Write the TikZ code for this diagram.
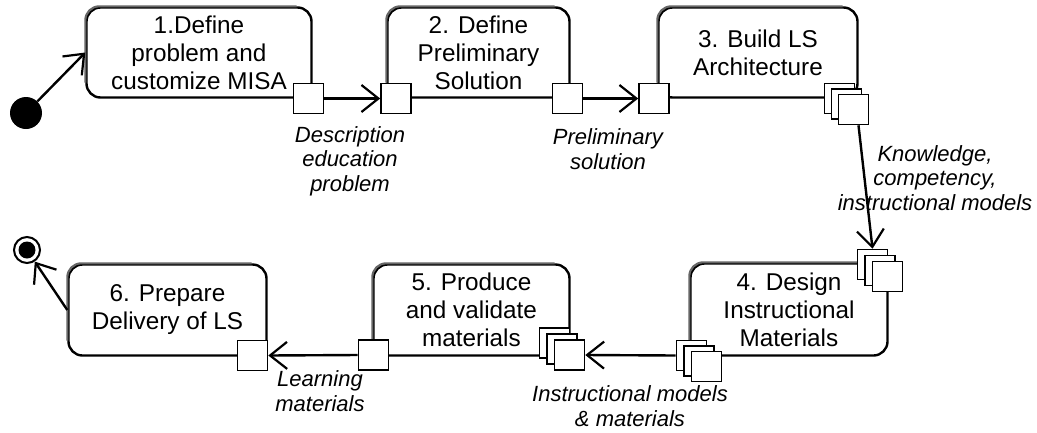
\documentclass[tikz,border=0pt]{standalone}
\usepackage{fontspec}
\setmainfont{Liberation Sans}
\usetikzlibrary{arrows.meta}
\begin{document}
\begin{tikzpicture}[x=1pt,y=-1pt,
  box/.style={draw=black, line width=2.4pt, fill=white, rounded corners=14pt,
    inner sep=0pt, align=center, font=\fontsize{24.3}{28}\selectfont},
  gedge/.style={draw=black!60, line width=2.1pt, rounded corners=14pt},
  pin/.style={draw=black, line width=1.6pt, fill=white, minimum size=30pt, inner sep=0pt},
  flow/.style={line width=2.4pt, -{Straight Barb[length=17pt,width=27pt,line width=2.2pt]}},
  lbl/.style={font=\fontsize{22}{24.5}\selectfont\itshape, align=center, inner sep=0pt}]
\useasboundingbox (0,0) rectangle (1037,432);

% activity boxes
\node[box, minimum width=225pt, minimum height=90pt] (b1) at (199,52.5) {1.Define\\problem and\\customize MISA};
\node[box, minimum width=182pt, minimum height=90pt] (b2) at (478.5,52.5) {2. Define\\Preliminary\\Solution};
\node[box, minimum width=199pt, minimum height=90pt] (b3) at (758,52.5) {3. Build LS\\Architecture};
\node[box, minimum width=197pt, minimum height=92pt] (b4) at (789,309.5) {4. Design\\Instructional\\Materials};
\node[box, minimum width=196pt, minimum height=91pt] (b5) at (471.5,310) {5. Produce\\and validate\\materials};
\node[box, minimum width=198pt, minimum height=91pt] (b6) at (167.5,310) {6. Prepare\\Delivery of LS};
\foreach \b in {b1,b2,b3,b4,b5,b6}
  \draw[gedge] ([yshift=16pt]\b.south west) -- (\b.north west) -- ([xshift=-16pt]\b.north east);

% single pins
\node[pin] (p1o) at (308.5,98.5) {};
\node[pin] (p2i) at (396,98.5) {};
\node[pin] (p2o) at (567.5,98.5) {};
\node[pin] (p3i) at (654,98.5) {};
\node[pin] (p5o) at (373.5,355) {};
\node[pin] (p6i) at (252.5,355.5) {};

% stacked pins
\node[pin] (p3a) at (839.5,98.5) {};
\node[pin] (p3b) at (846.5,104) {};
\node[pin] (p3c) at (853.5,109.5) {};
\node[pin] (p4a) at (872.5,264.5) {};
\node[pin] (p4b) at (880,270.5) {};
\node[pin] (p4c) at (887.5,276.5) {};
\node[pin] (p4d) at (691.5,355.5) {};
\node[pin] (p4e) at (699,361) {};
\node[pin] (p4f) at (706.5,366.5) {};
\node[pin] (p5a) at (554.5,343) {};
\node[pin] (p5b) at (562,349) {};
\node[pin] (p5c) at (569.5,355) {};

% initial and final nodes
\node[circle, fill=black, minimum size=32pt, inner sep=0pt] (start) at (26,113) {};
\node[circle, draw=black, line width=2pt, fill=white, minimum size=26pt, inner sep=0pt] (end) at (27,250) {};
\node[circle, fill=black, minimum size=17pt, inner sep=0pt] (endin) at (27,250) {};

% flows
\draw[flow] (start) -- (b1.west);
\draw[flow] (p1o.east) -- (p2i.west);
\draw[flow] (p2o.east) -- (p3i.west);
\draw[flow] ([xshift=5pt]p3c.south) -- (p4a.north);
\draw[flow] (p4d.west) -- (p5c.east);
\draw[flow] (p5o.west) -- (p6i.east);
\draw[flow] (b6.west) -- (end);

% labels
\node[lbl] (l1) at (350,161) {Description\\education\\problem};
\node[lbl] (l2) at (608,149) {Preliminary\\solution};
\node[lbl] (l3) at (935,178) {Knowledge,\\competency,\\instructional models};
\node[lbl] (l4) at (320,391) {Learning\\materials};
\node[lbl] (l5) at (630,406) {Instructional models\\\& materials};
\end{tikzpicture}
\end{document}
